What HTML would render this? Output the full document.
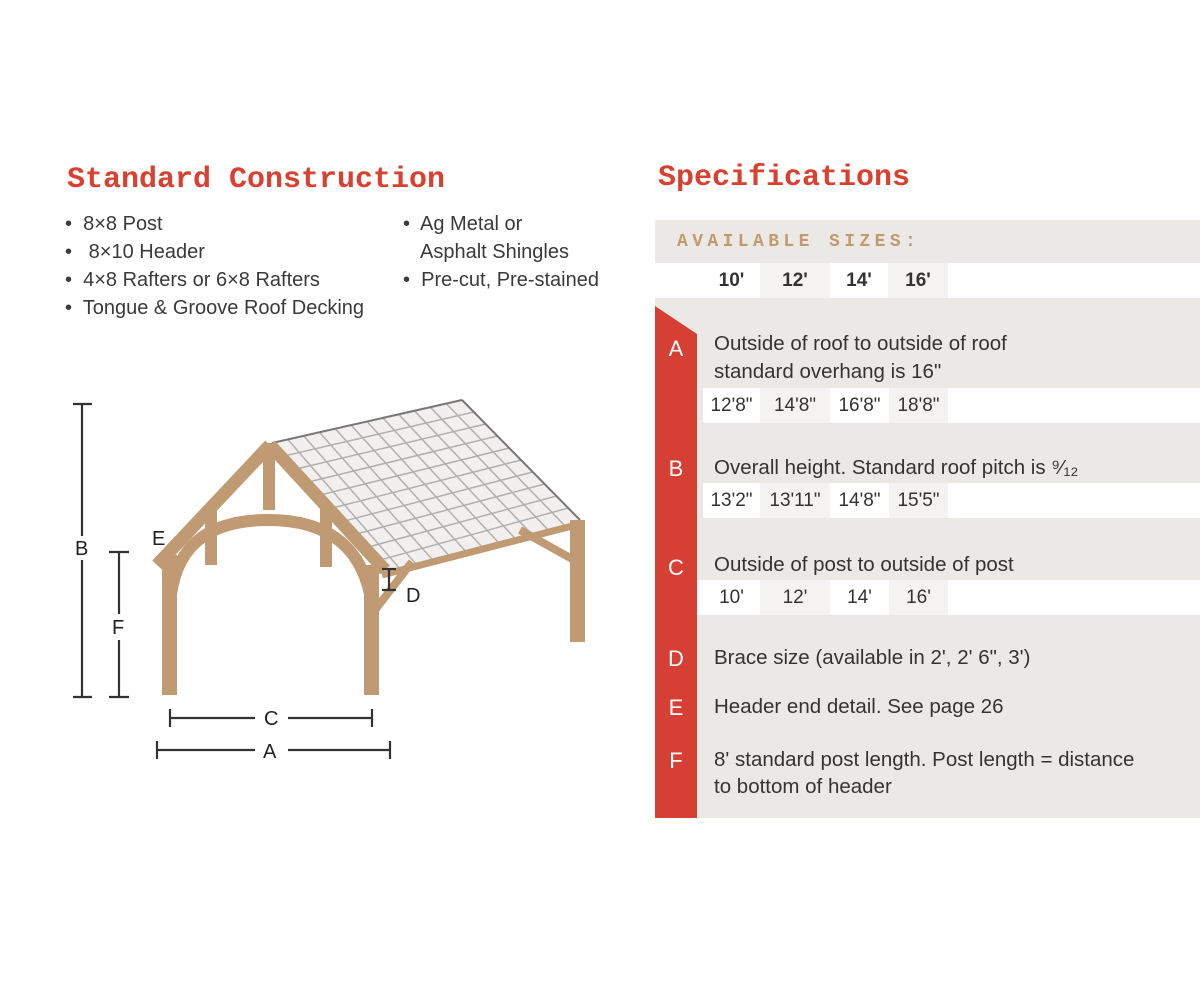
<!DOCTYPE html>
<html><head><meta charset="utf-8"><style>
body{margin:0;width:1200px;height:1000px;background:#fff;position:relative;overflow:hidden;font-family:"Liberation Sans",sans-serif;color:#3a3a3a}
.a{position:absolute;white-space:nowrap}
.h{font-family:"Liberation Mono",monospace;font-weight:bold;font-size:30px;color:#d9402f}
.b{font-size:20px}
.d{font-size:20.5px;color:#333}
.v{font-size:19px;color:#333;text-align:center;top:0;line-height:35px;height:35px;position:absolute}
.row{position:absolute;left:655px;width:545px;height:35px;background:#fff}
.lt{background:#f4f3f1}
.L{position:absolute;left:655px;width:42px;text-align:center;color:#fff;font-size:22px}
</style></head><body>
<div class="a h" style="left:67px;top:163px">Standard Construction</div>
<div class="a h" style="left:658px;top:161px">Specifications</div>
<div class="a b" style="left:65px;top:213px">•&nbsp; 8×8 Post</div>
<div class="a b" style="left:65px;top:241px">•&nbsp;&nbsp; 8×10 Header</div>
<div class="a b" style="left:65px;top:269px">•&nbsp; 4×8 Rafters or 6×8 Rafters</div>
<div class="a b" style="left:65px;top:297px">•&nbsp; Tongue &amp; Groove Roof Decking</div>
<div class="a b" style="left:403px;top:213px">•&nbsp; Ag Metal or</div>
<div class="a b" style="left:420px;top:241px">Asphalt Shingles</div>
<div class="a b" style="left:403px;top:269px">•&nbsp; Pre-cut, Pre-stained</div>

<div class="a" style="left:655px;top:220px;width:545px;height:598px;background:#ebe9e6"></div>
<div class="a" style="left:677px;top:232px;font-family:'Liberation Mono',monospace;font-weight:bold;font-size:18px;letter-spacing:4.4px;color:#c49a6c">AVAILABLE SIZES:</div>

<div class="row" style="top:263px"><div class="v lt" style="left:105px;width:70px"></div><div class="v lt" style="left:233px;width:60px"></div>
<div class="v" style="left:48px;width:57px;font-weight:bold">10'</div><div class="v" style="left:105px;width:70px;font-weight:bold">12'</div><div class="v" style="left:175px;width:58px;font-weight:bold">14'</div><div class="v" style="left:233px;width:60px;font-weight:bold">16'</div></div>

<svg class="a" style="left:655px;top:306px" width="42" height="512"><polygon points="0,0 42,28 42,512 0,512" fill="#d63f33"/></svg>
<div class="L" style="top:336px">A</div>
<div class="L" style="top:456px">B</div>
<div class="L" style="top:555px">C</div>
<div class="L" style="top:646px">D</div>
<div class="L" style="top:695px">E</div>
<div class="L" style="top:748px">F</div>

<div class="a d" style="left:714px;top:332px">Outside of roof to outside of roof</div>
<div class="a d" style="left:714px;top:360px">standard overhang is 16"</div>
<div class="row" style="top:388px;left:703px;width:497px"><div class="v lt" style="left:57px;width:70px">14'8"</div><div class="v lt" style="left:186px;width:59px">18'8"</div><div class="v" style="left:0;width:57px">12'8"</div><div class="v" style="left:127px;width:59px">16'8"</div></div>

<div class="a d" style="left:714px;top:456px">Overall height. Standard roof pitch is ⁹⁄₁₂</div>
<div class="row" style="top:483px;left:703px;width:497px"><div class="v lt" style="left:57px;width:70px">13'11"</div><div class="v lt" style="left:186px;width:59px">15'5"</div><div class="v" style="left:0;width:57px">13'2"</div><div class="v" style="left:127px;width:59px">14'8"</div></div>

<div class="a d" style="left:714px;top:553px">Outside of post to outside of post</div>
<div class="row" style="top:580px;left:697px;width:503px"><div class="v lt" style="left:63px;width:70px">12'</div><div class="v lt" style="left:192px;width:59px">16'</div><div class="v" style="left:6px;width:57px">10'</div><div class="v" style="left:133px;width:59px">14'</div></div>

<div class="a d" style="left:714px;top:646px">Brace size (available in 2', 2' 6", 3')</div>
<div class="a d" style="left:714px;top:695px">Header end detail. See page 26</div>
<div class="a d" style="left:714px;top:748px">8' standard post length. Post length = distance</div>
<div class="a d" style="left:714px;top:775px">to bottom of header</div>

<svg class="a" style="left:0;top:0" width="650" height="1000">
<polygon points="272,443 462,400 580,520 385,575" fill="#f2f0ee"/>
<g stroke="#b0b0b0" stroke-width="1.5" fill="none">
<line x1="287.8" y1="439.4" x2="401.3" y2="570.4"/><line x1="303.7" y1="435.8" x2="417.5" y2="565.8"/><line x1="319.5" y1="432.3" x2="433.8" y2="561.3"/><line x1="335.3" y1="428.7" x2="450" y2="556.7"/><line x1="351.2" y1="425.1" x2="466.3" y2="552.1"/><line x1="367" y1="421.5" x2="482.5" y2="547.5"/><line x1="382.8" y1="417.9" x2="498.8" y2="542.9"/><line x1="398.7" y1="414.3" x2="515" y2="538.3"/><line x1="414.5" y1="410.8" x2="531.3" y2="533.8"/><line x1="430.3" y1="407.2" x2="547.5" y2="529.2"/><line x1="446.2" y1="403.6" x2="563.8" y2="524.6"/>
<line x1="283.3" y1="456.2" x2="473.8" y2="412"/><line x1="294.6" y1="469.4" x2="485.6" y2="424"/><line x1="305.9" y1="482.6" x2="497.4" y2="436"/><line x1="317.2" y1="495.8" x2="509.2" y2="448"/><line x1="328.5" y1="509" x2="521" y2="460"/><line x1="339.8" y1="522.2" x2="532.8" y2="472"/><line x1="351.1" y1="535.4" x2="544.6" y2="484"/><line x1="362.4" y1="548.6" x2="556.4" y2="496"/><line x1="373.7" y1="561.8" x2="568.2" y2="508"/>
</g>
<line x1="272" y1="443" x2="462" y2="400" stroke="#777" stroke-width="2"/>
<line x1="462" y1="400" x2="580" y2="520" stroke="#777" stroke-width="2"/>
<g fill="#c09a73" stroke="none">
<rect x="162" y="555" width="15" height="140"/>
<rect x="364" y="565" width="15" height="130"/>
<rect x="570" y="520" width="15" height="122"/>
<rect x="263" y="443" width="12" height="67"/>
<rect x="205" y="505" width="12" height="60"/>
<rect x="320" y="505" width="12" height="62"/>
</g>
<g stroke="#c09a73" fill="none">
<path d="M170,605 Q175,520 268,520 Q360,520 372,605" stroke-width="12"/>
<line x1="157" y1="565" x2="270" y2="445" stroke-width="13"/>
<line x1="270" y1="445" x2="385" y2="570" stroke-width="13"/>
<line x1="382" y1="575" x2="580" y2="524" stroke-width="7"/>
<line x1="375" y1="610" x2="412" y2="562" stroke-width="8"/>
<line x1="520" y1="530" x2="574" y2="560" stroke-width="8"/>
</g>
<g stroke="#333" stroke-width="2.2" fill="none">
<line x1="82" y1="404" x2="82" y2="536"/><line x1="82" y1="560" x2="82" y2="697"/><line x1="73" y1="404" x2="92" y2="404"/><line x1="73" y1="697" x2="92" y2="697"/>
<line x1="119" y1="552" x2="119" y2="614"/><line x1="119" y1="640" x2="119" y2="697"/><line x1="109" y1="552" x2="129" y2="552"/><line x1="109" y1="697" x2="129" y2="697"/>
<line x1="170" y1="718" x2="255" y2="718"/><line x1="288" y1="718" x2="372" y2="718"/><line x1="170" y1="709" x2="170" y2="727"/><line x1="372" y1="709" x2="372" y2="727"/>
<line x1="157" y1="750" x2="255" y2="750"/><line x1="288" y1="750" x2="390" y2="750"/><line x1="157" y1="741" x2="157" y2="759"/><line x1="390" y1="741" x2="390" y2="759"/>
<line x1="389" y1="569" x2="389" y2="590"/><line x1="382" y1="569" x2="396" y2="569"/><line x1="382" y1="590" x2="396" y2="590"/>
</g>
<g font-family="Liberation Sans,sans-serif" font-size="20" fill="#222">
<text x="75" y="555">B</text><text x="112" y="634">F</text><text x="152" y="545">E</text><text x="406" y="602">D</text><text x="264" y="725">C</text><text x="263" y="758">A</text>
</g>
</svg>
</body></html>
